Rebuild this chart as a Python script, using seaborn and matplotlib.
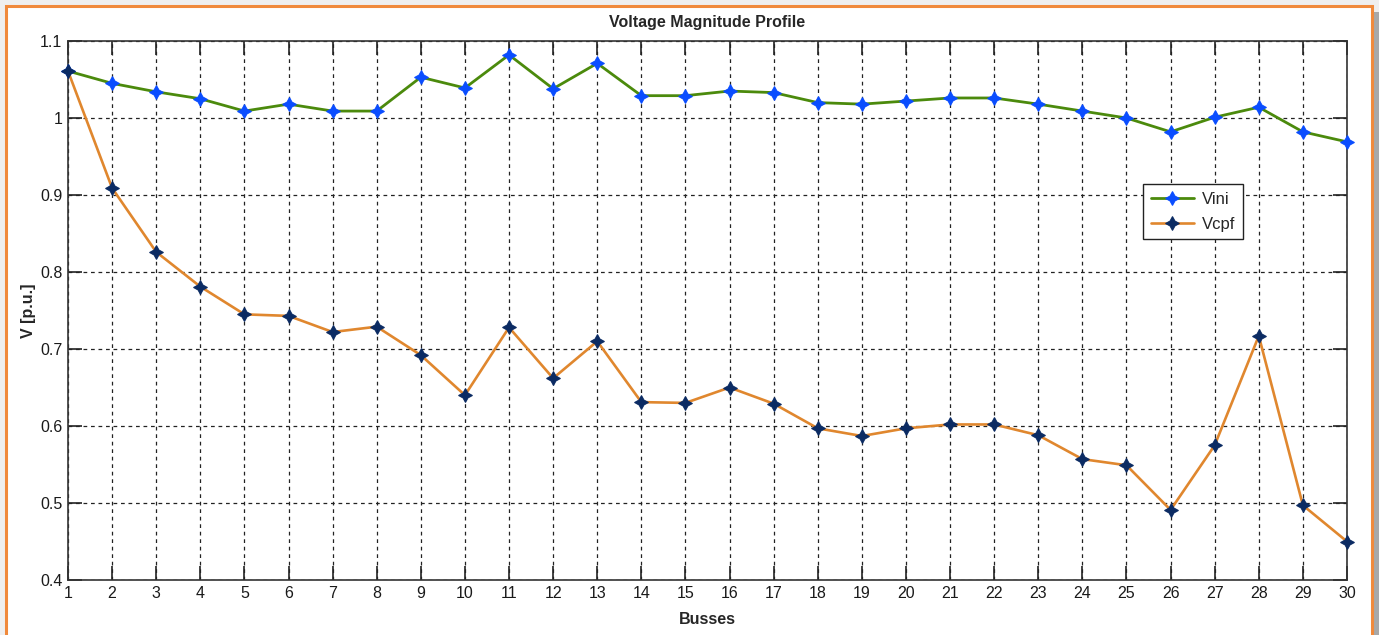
import numpy as np
import pandas as pd
import matplotlib
matplotlib.use("Agg")
import matplotlib.pyplot as plt
import seaborn as sns
from matplotlib.patches import Rectangle

busses = list(range(1, 31))
vini = [1.061, 1.045, 1.034, 1.025, 1.009, 1.018, 1.009, 1.009, 1.053, 1.039,
        1.082, 1.038, 1.071, 1.029, 1.029, 1.035, 1.033, 1.020, 1.018, 1.022,
        1.026, 1.026, 1.018, 1.009, 1.000, 0.982, 1.001, 1.014, 0.982, 0.969]
vcpf = [1.061, 0.909, 0.826, 0.781, 0.745, 0.743, 0.722, 0.729, 0.692, 0.640,
        0.728, 0.662, 0.710, 0.631, 0.630, 0.650, 0.629, 0.597, 0.587, 0.597,
        0.602, 0.602, 0.588, 0.557, 0.549, 0.491, 0.575, 0.717, 0.497, 0.450]
yticks = [0.4, 0.5, 0.6, 0.7, 0.8, 0.9, 1.0, 1.1]
ytick_labels = ["0.4", "0.5", "0.6", "0.7", "0.8", "0.9", "1", "1.1"]

sns.set_theme(style="white")
plt.rcParams['font.family'] = ['Liberation Sans', 'DejaVu Sans']

W, H = 1379, 635
fig = plt.figure(figsize=(W / 100, H / 100), dpi=100)
fig.patch.set_facecolor('#efefef')

# figure frame (white panel with orange border) and shadow
fig.patches.append(Rectangle((1373 / W, 0), 6 / W, (H - 12) / H, transform=fig.transFigure,
                             facecolor='#a8a8a8', edgecolor='none', zorder=0))
fig.patches.append(Rectangle((6 / W, -0.02), 1366 / W, (H - 6) / H + 0.02, transform=fig.transFigure,
                             facecolor='white', edgecolor='#f08a3c', linewidth=2.2, zorder=1))

ax = fig.add_axes([68 / W, 1 - 580 / H, (1347 - 68) / W, (580 - 41) / H])
ax.set_facecolor('white')
ax.set_zorder(2)

df = pd.DataFrame({"Busses": busses, "Vini": vini, "Vcpf": vcpf})
star = (4, 1, 0)
sns.lineplot(data=df, x="Busses", y="Vini", ax=ax, color='#4b8a0c', linewidth=2.0,
             marker=star, markersize=10, markerfacecolor='#0a4dff', markeredgecolor='#0a4dff',
             label="Vini", zorder=3, clip_on=False)
sns.lineplot(data=df, x="Busses", y="Vcpf", ax=ax, color='#e0872e', linewidth=1.9,
             marker=star, markersize=10, markerfacecolor='#0b2b63', markeredgecolor='#0b2b63',
             label="Vcpf", zorder=3, clip_on=False)

ax.set_xlim(1, 30)
ax.set_ylim(0.4, 1.1)
ax.set_xticks(busses)
ax.set_xticklabels([str(b) for b in busses])
ax.set_yticks(yticks)
ax.set_yticklabels(ytick_labels)
ax.grid(True, color='#222222', linestyle=(0, (3, 3)), linewidth=0.9)
ax.set_axisbelow(True)
for s in ax.spines.values():
    s.set_color('#333333')
    s.set_linewidth(1.2)
    s.set_visible(True)
ax.tick_params(direction='in', length=10, width=1.2, color='#222222',
               top=True, right=True, bottom=True, left=True,
               labelsize=11.5, labelcolor='#1a1a1a', pad=4)

ax.set_title("Voltage Magnitude Profile", fontsize=11.5, fontweight='bold', pad=10)
ax.set_xlabel("Busses", fontsize=11.5, fontweight='bold', labelpad=8)
ax.set_ylabel("V [p.u.]", fontsize=11.5, fontweight='bold', labelpad=3)

leg = ax.legend(loc='upper left', bbox_to_anchor=((1143 - 68) / 1279, (580 - 184) / 539),
                fontsize=12, frameon=True, fancybox=False, framealpha=1,
                edgecolor='#222222', handlelength=2.6, borderpad=0.45, labelspacing=0.6,
                handletextpad=0.5, borderaxespad=0)
leg.get_frame().set_linewidth(1.0)

fig.savefig("out.png", dpi=100, facecolor=fig.get_facecolor())
